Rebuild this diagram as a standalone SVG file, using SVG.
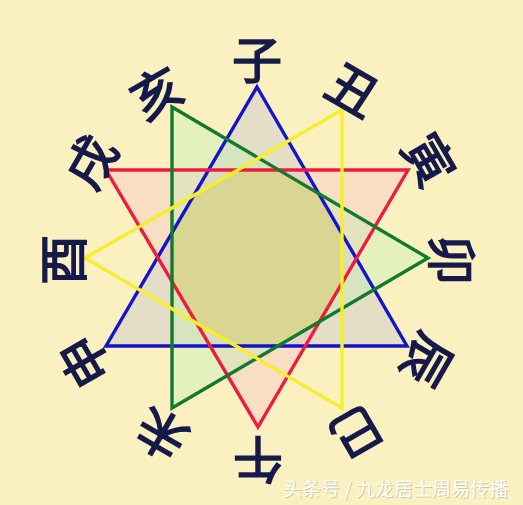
<svg xmlns="http://www.w3.org/2000/svg" width="523" height="505" viewBox="0 0 523 505">
  <style>
    .tri { stroke-width: 3.4; stroke-linejoin: miter; }
    .br { font-family: "Noto Sans CJK SC", "Noto Sans CJK TC", sans-serif; font-weight: 400; font-size: 50px; fill: #161a4a; stroke: #161a4a; stroke-width: 1.6; text-anchor: middle; dominant-baseline: central; }
    .wm { font-family: "Noto Sans CJK SC", sans-serif; font-size: 19px; }
  </style>
  <defs>
    <clipPath id="cBlue"><polygon points="257,87 407,346 106,346"/></clipPath>
    <clipPath id="cRed"><polygon points="106,170 408,170 258,427"/></clipPath>
    <clipPath id="cGreen"><polygon points="172,107 428,258 172,408"/></clipPath>
    <clipPath id="cYellow"><polygon points="342,110 342,408 85,258"/></clipPath>
  </defs>
  <rect width="523" height="505" fill="#faf0c0"/>

  <g id="fills">
    <polygon points="257,87 407,346 106,346" fill="#b0b0d8" fill-opacity="0.28"/>
    <polygon points="106,170 408,170 258,427" fill="#f4b0c8" fill-opacity="0.28"/>
    <polygon points="172,107 428,258 172,408" fill="#c0f0b8" fill-opacity="0.38"/>
    <g clip-path="url(#cBlue)"><g clip-path="url(#cRed)"><g clip-path="url(#cGreen)"><g clip-path="url(#cYellow)">
      <rect x="150" y="150" width="220" height="220" fill="#d8d692"/>
    </g></g></g></g>
  </g>

  <g id="connectors">
    <g id="tri-blue"><polygon class="tri" points="257,87 407,346 106,346" fill="none" stroke="#1414c8"/></g>
    <g id="tri-red"><polygon class="tri" points="106,170 408,170 258,427" fill="none" stroke="#ee1c3c"/></g>
    <g id="tri-green"><polygon class="tri" points="172,107 428,258 172,408" fill="none" stroke="#127a2c"/></g>
    <g id="tri-yellow"><polygon class="tri" points="342,110 342,408 85,258" fill="none" stroke="#f8ee2c"/></g>
  </g>

  <g id="branches">
    <g id="zi" transform="translate(257,57)"><text class="br">子</text></g>
    <g id="chou" transform="translate(355,87) rotate(30)"><text class="br">丑</text></g>
    <g id="yin" transform="translate(432,158) rotate(60)"><text class="br">寅</text></g>
    <g id="mao" transform="translate(455,260) rotate(90)"><text class="br">卯</text></g>
    <g id="chen" transform="translate(430,362) rotate(120)"><text class="br">辰</text></g>
    <g id="si" transform="translate(358,435) rotate(150)"><text class="br">巳</text></g>
    <g id="wu" transform="translate(258,463) rotate(180)"><text class="br">午</text></g>
    <g id="wei" transform="translate(160,437) rotate(210)"><text class="br">未</text></g>
    <g id="shen" transform="translate(82,363) rotate(240)"><text class="br">申</text></g>
    <g id="you" transform="translate(60,260) rotate(270)"><text class="br">酉</text></g>
    <g id="xu" transform="translate(88,160) rotate(300)"><text class="br">戌</text></g>
    <g id="hai" transform="translate(155,90) rotate(330)"><text class="br">亥</text></g>
  </g>

  <g id="watermark">
    <text class="wm" x="284" y="497" fill="#b8b090" fill-opacity="0.6">头条号 / 九龙居士周易传播</text>
    <text class="wm" x="283" y="496" fill="#ffffff">头条号 / 九龙居士周易传播</text>
  </g>
</svg>
